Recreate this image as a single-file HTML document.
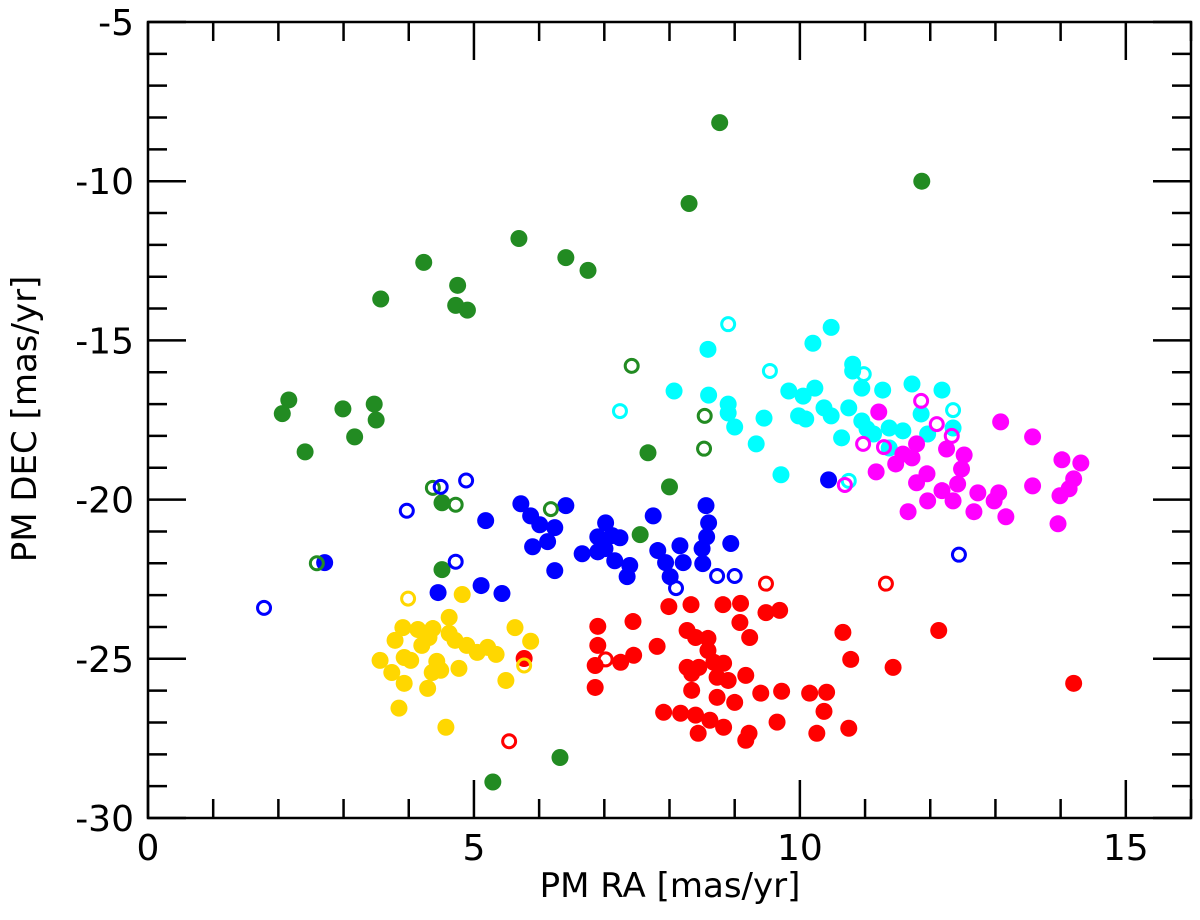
<!DOCTYPE html>
<html><head><meta charset="utf-8"><style>
html,body{margin:0;padding:0;background:#fff;}
svg text{font-family:"DejaVu Sans","Liberation Sans",sans-serif;fill:#000;}
</style></head><body>
<svg id="chart" width="1200" height="915" xmlns="http://www.w3.org/2000/svg">
<g id="axes"></g>
<g id="marks"></g>
<text x="670" y="897" font-size="34" text-anchor="middle">PM RA [mas/yr]</text>
<text transform="translate(36,419) rotate(-90)" font-size="34" text-anchor="middle">PM DEC [mas/yr]</text>
</svg>
<script>
const xTicks=[0,5,10,15];
const yTicks=[-5,-10,-15,-20,-25,-30];
const greenFilledX=[8.77,11.87,8.3,5.69,6.41,6.75,4.23,4.75,4.72,4.9,3.57,2.16,2.06,2.99,3.47,3.5,3.17,2.41,7.67,8.0,4.51,4.51,7.55,6.32,5.29];
const greenFilledY=[-8.16,-10.0,-10.7,-11.8,-12.4,-12.8,-12.55,-13.27,-13.9,-14.05,-13.7,-16.87,-17.3,-17.15,-17.0,-17.5,-18.03,-18.5,-18.53,-19.6,-20.1,-22.2,-21.1,-28.1,-28.87];
const greenOpenX=[4.37,4.72,6.18,7.42,8.54,8.53,2.59];
const greenOpenY=[-19.63,-20.16,-20.3,-15.8,-17.37,-18.4,-22.0];
const blueFilledX=[2.71,4.45,5.11,5.43,5.18,5.72,5.87,6.01,6.41,6.24,6.13,5.90,6.24,6.66,7.02,6.90,7.12,7.24,7.01,6.90,7.16,7.39,7.35,7.75,7.82,7.94,8.01,8.16,8.21,8.56,8.60,8.57,8.50,8.51,8.94,10.44];
const blueFilledY=[-21.98,-22.92,-22.70,-22.95,-20.66,-20.13,-20.51,-20.79,-20.19,-20.88,-21.32,-21.48,-22.23,-21.70,-20.73,-21.17,-21.13,-21.20,-21.54,-21.64,-21.92,-22.07,-22.42,-20.51,-21.60,-21.98,-22.42,-21.45,-21.98,-20.19,-20.73,-21.17,-21.54,-22.01,-21.38,-19.38];
const blueOpenX=[1.78,3.97,4.49,4.88,4.72,8.1,8.73,9.0,12.44];
const blueOpenY=[-23.4,-20.35,-19.6,-19.4,-21.95,-22.78,-22.4,-22.4,-21.73];
const yellowFilledX=[4.82,4.62,3.91,4.14,4.37,4.31,4.62,3.79,3.93,3.56,3.74,4.03,4.43,4.49,4.77,4.89,5.05,5.21,5.34,5.63,5.87,5.49,4.36,4.29,3.85,4.57,3.93,4.20,4.71];
const yellowFilledY=[-22.98,-23.70,-24.02,-24.08,-24.05,-24.33,-24.20,-24.42,-24.96,-25.05,-25.43,-25.05,-25.08,-25.36,-25.30,-24.58,-24.80,-24.64,-24.86,-24.02,-24.45,-25.68,-25.43,-25.93,-26.55,-27.15,-25.77,-24.58,-24.42];
const yellowOpenX=[3.99,5.77];
const yellowOpenY=[-23.11,-25.21];
const redFilledX=[5.77,7.99,8.33,8.82,9.09,9.48,9.69,7.44,6.90,9.08,9.23,6.90,7.81,7.45,7.25,6.86,6.86,8.27,8.40,8.59,8.59,8.27,8.45,8.68,8.83,8.90,8.73,8.34,9.17,8.34,8.73,9.00,9.40,9.72,10.15,10.41,10.37,7.91,8.17,8.40,8.62,8.83,8.44,9.22,9.17,9.65,10.26,10.75,10.66,10.78,11.43,12.13,14.20];
const redFilledY=[-24.99,-23.36,-23.30,-23.30,-23.26,-23.55,-23.48,-23.83,-23.98,-23.86,-24.33,-24.58,-24.61,-24.89,-25.11,-25.21,-25.90,-24.11,-24.33,-24.36,-24.74,-25.27,-25.27,-25.11,-25.14,-25.68,-25.58,-25.46,-25.52,-25.99,-26.21,-26.37,-26.08,-26.02,-26.08,-26.05,-26.65,-26.68,-26.71,-26.77,-26.93,-27.15,-27.34,-27.34,-27.56,-26.99,-27.34,-27.18,-24.17,-25.02,-25.27,-24.11,-25.77];
const redOpenX=[9.48,11.32,7.02,5.54];
const redOpenY=[-22.64,-22.64,-25.02,-27.59];
const cyanFilledX=[10.48,10.20,8.59,10.81,10.81,11.72,12.18,10.95,11.27,8.07,8.60,9.83,10.05,10.23,10.37,10.48,8.90,8.90,9.00,9.45,10.75,9.98,10.09,10.95,10.64,11.03,11.37,11.58,11.86,11.96,12.35,9.33,9.71,11.37,11.13];
const cyanFilledY=[-14.59,-15.09,-15.28,-15.75,-15.96,-16.37,-16.56,-16.50,-16.56,-16.59,-16.72,-16.59,-16.75,-16.50,-17.12,-17.37,-17.00,-17.28,-17.72,-17.44,-17.12,-17.37,-17.47,-17.53,-18.06,-17.78,-17.75,-17.84,-17.31,-17.94,-17.75,-18.25,-19.22,-18.38,-17.94];
const cyanOpenX=[8.90,9.54,7.24,10.98,12.35,10.75];
const cyanOpenY=[-14.49,-15.96,-17.22,-16.06,-17.19,-19.41];
const magentaFilledX=[11.21,13.08,13.57,14.02,14.31,14.20,14.13,13.99,13.96,13.57,12.52,12.48,12.42,12.35,12.73,13.05,12.98,13.16,12.67,12.18,11.96,11.95,11.79,11.66,11.58,11.47,11.72,12.25,11.17,11.79];
const magentaFilledY=[-17.25,-17.56,-18.03,-18.75,-18.85,-19.35,-19.66,-19.88,-20.76,-19.57,-18.60,-19.04,-19.51,-20.04,-19.79,-19.79,-20.04,-20.54,-20.38,-19.72,-20.04,-19.19,-19.47,-20.38,-18.57,-18.88,-18.69,-18.41,-19.13,-18.25];
const magentaOpenX=[11.86,12.10,12.33,10.97,11.29,10.69];
const magentaOpenY=[-16.90,-17.63,-18.00,-18.25,-18.35,-19.54];

const L=148,R=1191,T=22,B=818,XMIN=0,XMAX=16,YMIN=-30,YMAX=-5;
function sx(v){return L+(v-XMIN)/(XMAX-XMIN)*(R-L);}
function sy(v){return B-(v-YMIN)/(YMAX-YMIN)*(B-T);}
const NS='http://www.w3.org/2000/svg';
const axes=document.getElementById('axes');
const marks=document.getElementById('marks');
function mk(tag,parent){const e=document.createElementNS(NS,tag);parent.appendChild(e);return e;}
function line(x1,y1,x2,y2,parent){const l=mk('line',parent);l.setAttribute('x1',x1);l.setAttribute('y1',y1);l.setAttribute('x2',x2);l.setAttribute('y2',y2);l.setAttribute('stroke','#000');l.setAttribute('stroke-width','2.5');return l;}
const frame=mk('rect',axes);


frame.setAttribute('x',L);frame.setAttribute('y',T);frame.setAttribute('width',R-L);frame.setAttribute('height',B-T);
frame.setAttribute('fill','none');frame.setAttribute('stroke','#000');frame.setAttribute('stroke-width','2.5');
for(let v=XMIN;v<=XMAX;v++){
  const major=v%5===0;const len=major?38:19;const x=sx(v);
  const t1=line(x,B,x,B-len,axes);
  
  
  const t2=line(x,T,x,T+len,axes);
  
  
}
for(let v=YMIN;v<=YMAX;v++){
  const major=v%5===0;const len=major?38:19;const y=sy(v);
  const t1=line(L,y,L+len,y,axes);
  
  
  const t2=line(R,y,R-len,y,axes);
  
  
}
xTicks.forEach(v=>{const t=mk('text',axes);
  
  
  t.setAttribute('x',sx(v));t.setAttribute('y',860);t.setAttribute('font-size','36');t.setAttribute('text-anchor','middle');t.textContent=v;});
yTicks.forEach(v=>{const t=mk('text',axes);
  
  
  t.setAttribute('x',134);t.setAttribute('y',sy(v)+13);t.setAttribute('font-size','36');t.setAttribute('text-anchor','end');t.textContent=v;});
function plot(xs,ys,color,open,name){
  xs.forEach((xv,i)=>{const c=mk('circle',marks);
    
    
    c.setAttribute('cx',sx(xv));c.setAttribute('cy',sy(ys[i]));
    if(open){c.setAttribute('r','6.5');c.setAttribute('fill','none');c.setAttribute('stroke',color);c.setAttribute('stroke-width','3');}
    else{c.setAttribute('r','8.5');c.setAttribute('fill',color);}
  });
}
plot(greenFilledX,greenFilledY,'#228b22',false,'green-point');
plot(yellowFilledX,yellowFilledY,'#ffd700',false,'yellow-point');
plot(redFilledX,redFilledY,'#ff0000',false,'red-point');
plot(blueFilledX,blueFilledY,'#0000ff',false,'blue-point');
plot(cyanFilledX,cyanFilledY,'#00ffff',false,'cyan-point');
plot(magentaFilledX,magentaFilledY,'#ff00ff',false,'magenta-point');
plot(greenOpenX,greenOpenY,'#228b22',true,'green-open-point');
plot(blueOpenX,blueOpenY,'#0000ff',true,'blue-open-point');
plot(yellowOpenX,yellowOpenY,'#ffd700',true,'yellow-open-point');
plot(redOpenX,redOpenY,'#ff0000',true,'red-open-point');
plot(cyanOpenX,cyanOpenY,'#00ffff',true,'cyan-open-point');
plot(magentaOpenX,magentaOpenY,'#ff00ff',true,'magenta-open-point');
</script>
</body></html>
